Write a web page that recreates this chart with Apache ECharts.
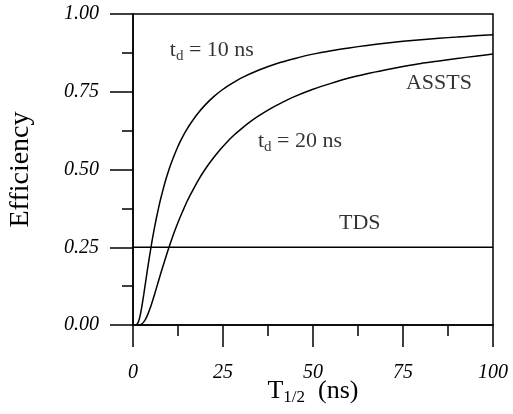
<!DOCTYPE html>
<html>
<head>
<meta charset="utf-8">
<script src="https://cdn.jsdelivr.net/npm/echarts@6/dist/echarts.min.js"></script>
<style>html,body{margin:0;padding:0;background:#fff;}#c{width:513px;height:414px;}</style>
</head>
<body>
<div id="c"></div>
<script>
// T_1/2 (ns) sample points and efficiency values
const tHalf10 = [1, 1.5, 2, 2.5, 3, 3.5, 4, 4.5, 5, 5.5, 6, 6.5, 7, 7.5, 8, 9, 10, 11, 12, 13, 14, 15, 16, 18, 20, 22.5, 25, 27.5, 30, 35, 40, 45, 50, 55, 60, 65, 70, 75, 80, 85, 90, 95, 100];
const eff10   = [0.001, 0.010, 0.031, 0.062, 0.099, 0.138, 0.177, 0.214, 0.25, 0.284, 0.315, 0.344, 0.371, 0.397, 0.420, 0.463, 0.50, 0.532, 0.561, 0.587, 0.610, 0.630, 0.648, 0.680, 0.707, 0.735, 0.758, 0.777, 0.794, 0.820, 0.841, 0.857, 0.871, 0.882, 0.891, 0.899, 0.906, 0.912, 0.917, 0.922, 0.926, 0.930, 0.933];
const tHalf20 = [1, 2, 2.5, 3, 3.5, 4, 5, 6, 7, 8, 9, 10, 11, 12, 13, 14, 15, 16, 18, 20, 22, 24, 26, 28, 30, 32.5, 35, 37.5, 40, 45, 50, 55, 60, 65, 70, 75, 80, 85, 90, 95, 100];
const eff20   = [0.0, 0.001, 0.004, 0.010, 0.019, 0.031, 0.062, 0.099, 0.138, 0.177, 0.214, 0.25, 0.284, 0.315, 0.344, 0.371, 0.397, 0.420, 0.463, 0.50, 0.532, 0.561, 0.587, 0.610, 0.630, 0.653, 0.673, 0.691, 0.707, 0.735, 0.758, 0.777, 0.794, 0.808, 0.820, 0.831, 0.841, 0.849, 0.857, 0.864, 0.871];
const tdsT   = [0, 100];
const tdsEff = [0.25, 0.25];
const xTicks = [0, 25, 50, 75, 100];
const yTicks = [0.00, 0.25, 0.50, 0.75, 1.00];
// annotation texts and their data positions
const noteText = ['t{sub|d} = 10 ns', 'ASSTS', 't{sub|d} = 20 ns', 'TDS'];
const noteX = [21.9, 85, 46.4, 63];
const noteY = [0.884, 0.778, 0.592, 0.328];

const serif = 'Liberation Serif';
const pair = (xs, ys) => xs.map((x, i) => [x, ys[i]]);
const chart = echarts.init(document.getElementById('c'));
const lineStyle = { color: '#000', width: 1.5 };
chart.setOption({
  backgroundColor: '#fff',
  animation: false,
  grid: { left: 133, right: 20, top: 14, bottom: 89, containLabel: false, outerBoundsMode: 'none',
    show: true, borderColor: '#000', borderWidth: 1.5, backgroundColor: 'transparent' },
  xAxis: {
    type: 'value', min: xTicks[0], max: xTicks[xTicks.length - 1], interval: 25,
    axisLine: { onZero: false, lineStyle: { color: '#000', width: 1.5 } },
    axisTick: { inside: false, length: 22, lineStyle: { color: '#000', width: 1.5 } },
    minorTick: { show: true, splitNumber: 2, length: 11, lineStyle: { color: '#000', width: 1.5 } },
    splitLine: { show: false },
    axisLabel: { margin: 38, color: '#000', fontFamily: serif, fontStyle: 'italic', fontSize: 20 },
    name: 'T{sub|1/2}  (ns)', nameLocation: 'middle', nameGap: 52, nameMoveOverlap: false,
    nameTextStyle: { color: '#000', fontFamily: serif, fontSize: 26,
      rich: { sub: { fontFamily: serif, fontSize: 17, padding: [12, 0, 0, 0], color: '#000' } } }
  },
  yAxis: {
    type: 'value', min: yTicks[0], max: yTicks[yTicks.length - 1], interval: 0.25,
    axisLine: { onZero: false, lineStyle: { color: '#000', width: 1.5 } },
    axisTick: { inside: false, length: 23, lineStyle: { color: '#000', width: 1.5 } },
    minorTick: { show: true, splitNumber: 2, length: 11, lineStyle: { color: '#000', width: 1.5 } },
    splitLine: { show: false },
    axisLabel: { margin: 34, color: '#000', fontFamily: serif, fontStyle: 'italic', fontSize: 20,
      formatter: v => v.toFixed(2) },
    name: 'Efficiency', nameLocation: 'middle', nameGap: 98, nameMoveOverlap: false,
    nameTextStyle: { color: '#000', fontFamily: serif, fontSize: 28 }
  },
  series: [
    { type: 'line', data: pair(tHalf10, eff10), showSymbol: false, smooth: 0.2, lineStyle, silent: true },
    { type: 'line', data: pair(tHalf20, eff20), showSymbol: false, smooth: 0.2, lineStyle, silent: true },
    { type: 'line', data: pair(tdsT, tdsEff), showSymbol: false, lineStyle, silent: true },
    { type: 'scatter', symbolSize: 0, silent: true,
      data: noteText.map((t, i) => ({ value: [noteX[i], noteY[i]], name: t })),
      label: { show: true, position: 'inside', formatter: p => p.name, color: '#000',
        fontFamily: serif, fontSize: 22,
        rich: { sub: { fontFamily: serif, fontSize: 15, padding: [12, 0, 0, 0], color: '#000' } } } }
  ]
});
</script>
</body>
</html>
